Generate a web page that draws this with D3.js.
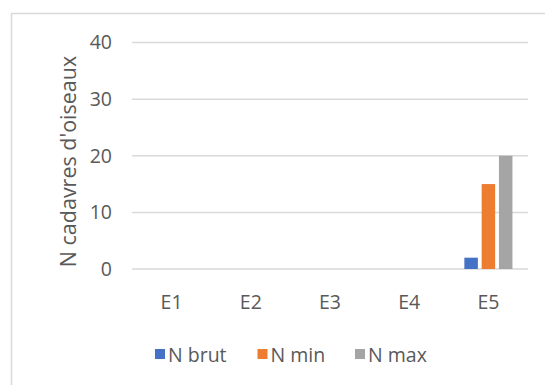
<!DOCTYPE html>
<html>
<head>
<meta charset="utf-8">
<script src="https://cdn.jsdelivr.net/npm/d3@7"></script>
<style>
  html, body { margin: 0; padding: 0; background: #fff; }
  svg { display: block; }
  text { font-family: "Open Sans", "Noto Sans", sans-serif; fill: #595959; }
</style>
</head>
<body>
<svg id="chart" width="545" height="385"></svg>
<script>
// Bird carcass counts per station
const categories = ["E1", "E2", "E3", "E4", "E5"];
const seriesNames = ["N brut", "N min", "N max"];
const nBrut = [0, 0, 0, 0, 2];
const nMin  = [0, 0, 0, 0, 15];
const nMax  = [0, 0, 0, 0, 20];
const yTicks = [0, 10, 20, 30, 40];
const colors = ["#4472C4", "#ED7D31", "#A5A5A5"];
const yTitle = "N cadavres d'oiseaux";

const series = [nBrut, nMin, nMax];

const svg = d3.select("#chart");
const W = 545, H = 385;
const labelSize = "19.5px";

// chart area frame
svg.append("rect")
  .attr("x", 11.5).attr("y", 13.5)
  .attr("width", W + 20).attr("height", H + 20)
  .attr("fill", "#fff").attr("stroke", "#d9d9d9").attr("stroke-width", 1.5);

const plot = { left: 132, right: 528, top: 42.5, bottom: 269 };

const x = d3.scaleBand().domain(categories).range([plot.left, plot.right]);
const y = d3.scaleLinear().domain([0, 40]).range([plot.bottom, plot.top]);

// gridlines
svg.append("g").selectAll("line").data(yTicks).join("line")
  .attr("x1", plot.left).attr("x2", plot.right)
  .attr("y1", d => y(d)).attr("y2", d => y(d))
  .attr("stroke", "#d9d9d9").attr("stroke-width", 1.5);

// y labels
const yAxis = d3.axisLeft(y).tickValues(yTicks).tickSize(0).tickPadding(20);
const yg = svg.append("g").attr("transform", `translate(${plot.left},0)`).call(yAxis);
yg.select(".domain").remove();
yg.selectAll("text").style("font-size", labelSize).style("font-family", null).attr("fill", "#595959");

// category labels
const xAxis = d3.axisBottom(x).tickSize(0).tickPadding(26);
const xg = svg.append("g").attr("transform", `translate(0,${plot.bottom})`).call(xAxis);
xg.select(".domain").remove();
xg.selectAll("text").style("font-size", labelSize).attr("fill", "#595959");
svg.selectAll(".tick").attr("font-family", null);

// bars
const barW = 13.5, barStep = 17.3;
const inner = d3.scaleBand().domain(seriesNames).range([0, barStep * 3]).paddingInner(0);
series.forEach((vals, si) => {
  svg.append("g").selectAll("rect").data(vals).join("rect")
    .attr("x", (d, i) => x(categories[i]) + x.bandwidth() / 2 - barStep * 1.5 + inner(seriesNames[si]) + (barStep - barW) / 2)
    .attr("y", d => y(d))
    .attr("width", barW)
    .attr("height", d => y(0) - y(d))
    .attr("fill", colors[si]);
});

// y title
svg.append("text")
  .attr("transform", `translate(67,${(50 + 273) / 2}) rotate(-90)`)
  .attr("text-anchor", "middle")
  .attr("dominant-baseline", "central")
  .style("font-size", "21.5px")
  .text(yTitle);

// legend
const legendX = [168, 270.5, 368];
const legend = svg.append("g");
seriesNames.forEach((name, i) => {
  legend.append("rect")
    .attr("x", legendX[i] - 13).attr("y", 349)
    .attr("width", 10).attr("height", 10)
    .attr("fill", colors[i]);
  legend.append("text")
    .attr("x", legendX[i]).attr("y", 362)
    .style("font-size", labelSize)
    .text(name);
});
</script>
</body>
</html>
